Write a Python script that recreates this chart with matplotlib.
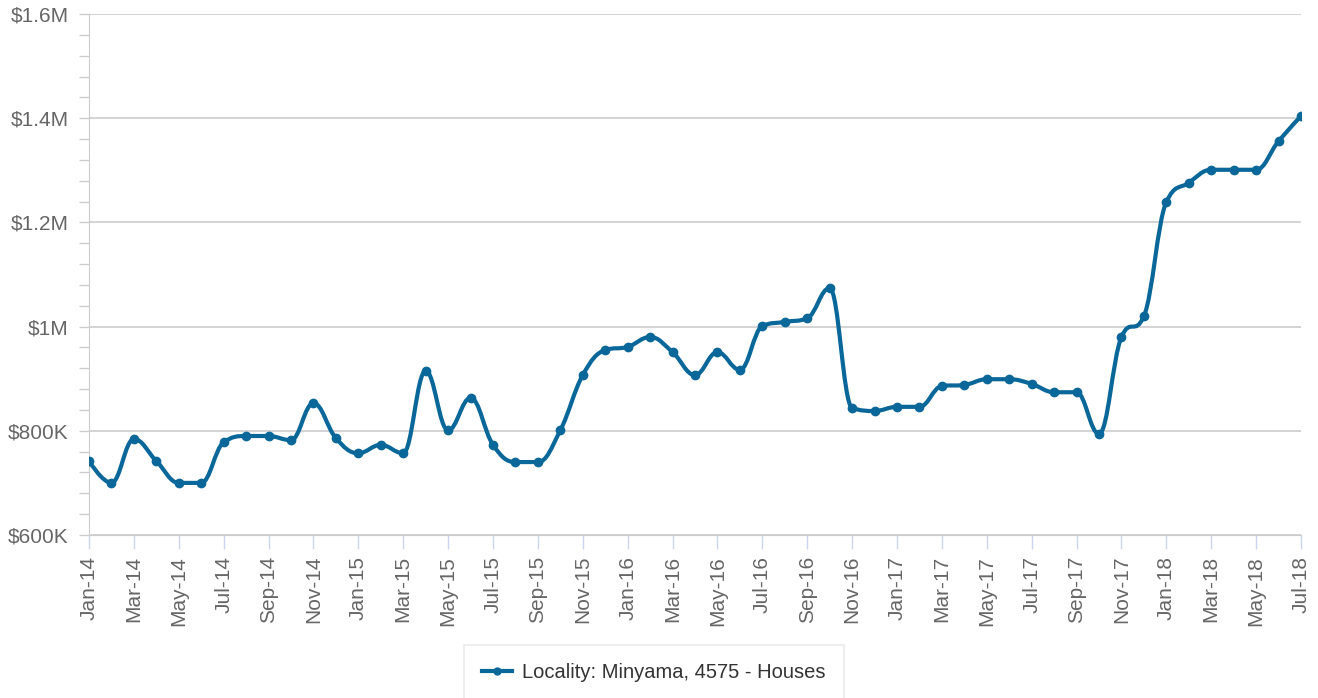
import numpy as np
import matplotlib
matplotlib.use("Agg")
import matplotlib.pyplot as plt
from matplotlib.path import Path
from matplotlib.patches import PathPatch
from matplotlib.lines import Line2D
from matplotlib.ticker import MultipleLocator, FuncFormatter, FixedLocator

plt.rcParams['font.family'] = ['Liberation Sans', 'DejaVu Sans']

# monthly median price, Jan-14 .. Jul-18 (in $K)
months = ['Jan', 'Feb', 'Mar', 'Apr', 'May', 'Jun', 'Jul', 'Aug', 'Sep', 'Oct', 'Nov', 'Dec']
labels = [f"{months[i % 12]}-{14 + i // 12}" for i in range(55)]
prices = [742, 700, 784, 742, 700, 700, 778, 790, 790, 782, 853, 786,
          757, 773, 757, 915, 801, 863, 773, 740, 740, 801, 907, 955,
          961, 980, 951, 907, 951, 917, 1001, 1009, 1016, 1074, 844, 838,
          846, 846, 886, 888, 899, 899, 890, 874, 874, 794, 980, 1020,
          1239, 1276, 1301, 1301, 1301, 1356, 1404]
series_name = 'Locality: Minyama, 4575 - Houses'

LINE = '#0a6799'


def spline_path(xs, ys, smoothing=1.5):
    # highcharts style spline
    n = len(xs)
    denom = smoothing + 1
    lc = [None] * n
    rc = [None] * n
    for i in range(1, n - 1):
        px, py = xs[i], ys[i]
        lx, ly = xs[i - 1], ys[i - 1]
        nx, ny = xs[i + 1], ys[i + 1]
        lcx = (smoothing * px + lx) / denom
        lcy = (smoothing * py + ly) / denom
        rcx = (smoothing * px + nx) / denom
        rcy = (smoothing * py + ny) / denom
        if rcx != lcx:
            corr = (rcy - lcy) * (rcx - px) / (rcx - lcx) + py - rcy
            lcy += corr
            rcy += corr
        if lcy > ly and lcy > py:
            lcy = max(ly, py)
            rcy = 2 * py - lcy
        elif lcy < ly and lcy < py:
            lcy = min(ly, py)
            rcy = 2 * py - lcy
        if rcy > ny and rcy > py:
            rcy = max(ny, py)
            lcy = 2 * py - rcy
        elif rcy < ny and rcy < py:
            rcy = min(ny, py)
            lcy = 2 * py - rcy
        lc[i] = (lcx, lcy)
        rc[i] = (rcx, rcy)
    verts = [(xs[0], ys[0])]
    codes = [Path.MOVETO]
    for i in range(1, n):
        c1 = rc[i - 1] if rc[i - 1] else (xs[i - 1], ys[i - 1])
        c2 = lc[i] if lc[i] else (xs[i], ys[i])
        verts += [c1, c2, (xs[i], ys[i])]
        codes += [Path.CURVE4] * 3
    return Path(verts, codes)


x = np.arange(len(prices))
y = np.array(prices, dtype=float)

fig = plt.figure(figsize=(13.18, 6.98), dpi=100)
ax = fig.add_axes([89 / 1318, 1 - 535 / 698, (1301 - 89) / 1318, (535 - 14) / 698])

ax.add_patch(PathPatch(spline_path(x, y), facecolor='none', edgecolor=LINE,
                       lw=3, capstyle='round', joinstyle='round', zorder=3))
ax.plot(x, y, 'o', color=LINE, ms=6, zorder=4)

ax.set_xlim(0, len(prices) - 1)
ax.set_ylim(600, 1600)

for s in ['top', 'right']:
    ax.spines[s].set_visible(False)
ax.spines['left'].set_color('#cccccc')
ax.spines['bottom'].set_color('#cccccc')

ax.yaxis.set_major_locator(MultipleLocator(200))
ax.yaxis.set_minor_locator(MultipleLocator(40))


def fmt(v, pos):
    if v >= 1000:
        m = v / 1000
        return f"${m:g}M"
    return f"${int(v)}K"


ax.yaxis.set_major_formatter(FuncFormatter(fmt))
ax.grid(axis='y', which='major', color='#cccccc', lw=1.2)
ax.set_axisbelow(True)
ax.tick_params(axis='y', which='both', length=7, width=1, color='#cccccc',
               labelsize=15, labelcolor='#666666', pad=7.5)

ticks = list(range(0, len(prices), 2))
ax.xaxis.set_major_locator(FixedLocator(ticks))
ax.set_xticklabels([labels[i] for i in ticks], rotation=90)
ax.tick_params(axis='x', length=10, width=1, color='#ccd6eb',
               labelsize=15, labelcolor='#666666', pad=5)

handle = Line2D([], [], color=LINE, lw=3, marker='o', ms=5)
leg = fig.legend([handle], [series_name], loc='upper center',
                 bbox_to_anchor=(654 / 1318, 1 - 645 / 698), frameon=True,
                 fontsize=14.5, handlelength=1.5, handletextpad=0.5, borderpad=0.9,
                 borderaxespad=0, fancybox=False, labelcolor='#333333')
leg.get_frame().set_edgecolor('#e6e6e6')
leg.get_frame().set_linewidth(1.2)

fig.savefig('out.png', dpi=100)
